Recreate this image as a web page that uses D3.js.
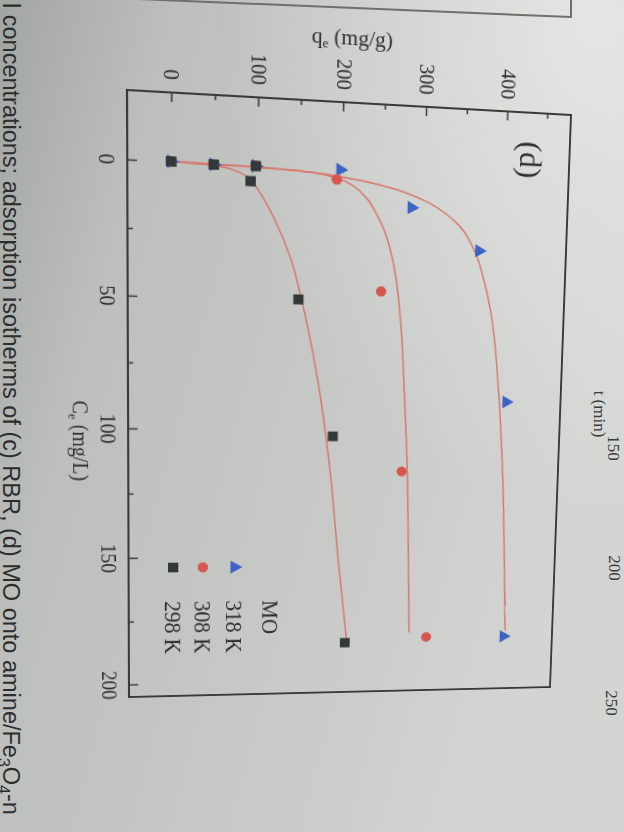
<!DOCTYPE html>
<html><head><meta charset="utf-8">
<script src="https://cdn.jsdelivr.net/npm/d3@7"></script>
<style>
html,body{margin:0;padding:0;width:624px;height:832px;overflow:hidden;}
body{background:#c4c7c3;}
svg{position:absolute;left:0;top:0;}
#chart{transform-origin:0 0;}
</style></head><body>
<svg id="bg" width="624" height="832"></svg>
<svg id="chart" width="624" height="832"></svg>
<script>
// ---------- data (Ce in mg/L, qe in mg/g) ----------
const seriesNames = ["318 K", "308 K", "298 K"];
const legendTitle = "MO";
const panelLabel = "(d)";
const xTitle = "C";   // Ce axis
const yTitle = "q";   // qe axis
const ceTicksMajor = [0, 50, 100, 150, 200];
const ceTicksMinor = [25, 75, 125, 175];
const qeTicksMajor = [0, 100, 200, 300, 400];
const qeTicksMinor = [50, 150, 250, 350, 450];

const ce318 = [0, 0.4, 0.2, 0.1, 13.2, 28.7, 87.7, 183.3];
const qe318 = [0, 49, 98, 198, 285, 370, 410, 416];
const ce308 = [0, 0.4, 0.2, 3.8, 45.6, 115.8, 183.0];
const qe308 = [0, 49, 98, 194, 250, 280, 316];
const ce298 = [0, 0.4, 0.2, 5.9, 49.6, 102.2, 184.8];
const qe298 = [0, 49, 98, 92, 150, 194, 213];

// fitted isotherm lines
const fitCe318 = [0, 1, 3, 6, 10, 17, 28, 40, 51, 84, 115, 151, 181];
const fitQe318 = [0, 130, 205, 258, 298, 336, 363, 377, 386, 400, 408, 414, 418];
const fitCe308 = [0, 0.6, 1.5, 3.4, 6, 10, 17, 22, 33, 58, 84, 115, 151, 181];
const fitQe308 = [0, 100, 160, 195, 214, 229, 244, 252, 263, 275, 281, 287, 291, 294];
const fitCe298 = [0, 0.8, 3, 6, 12, 20, 34, 50, 76, 115, 151, 183.5];
const fitQe298 = [0, 51, 80, 93, 107, 121, 140, 154, 172, 191, 203, 215];

// ---------- background (paper photo) ----------
const bg = d3.select("#bg");
const defs = bg.append("defs");
const lg = defs.append("linearGradient").attr("id","paper").attr("x1","0").attr("y1","0").attr("x2","1").attr("y2","0.35");
lg.append("stop").attr("offset","0").attr("stop-color","#a2a6a2");
lg.append("stop").attr("offset","0.25").attr("stop-color","#bcbfbb");
lg.append("stop").attr("offset","0.7").attr("stop-color","#c8cbc7");
lg.append("stop").attr("offset","1").attr("stop-color","#d2d5d1");
const rg = defs.append("radialGradient").attr("id","glow").attr("cx","0.95").attr("cy","0.02").attr("r","0.6");
rg.append("stop").attr("offset","0").attr("stop-color","#eaebe8").attr("stop-opacity",0.8);
rg.append("stop").attr("offset","1").attr("stop-color","#eaebe8").attr("stop-opacity",0);
bg.append("rect").attr("width",624).attr("height",832).attr("fill","url(#paper)");
bg.append("rect").attr("width",624).attr("height",832).attr("fill","url(#glow)");

// neighbouring panel fragments
bg.append("path").attr("d","M90,-3 L571,17 L571,-6").attr("fill","none").attr("stroke","#6d706e").attr("stroke-width",2);
const frag = bg.append("g").attr("font-family","Liberation Serif").attr("font-size",17).attr("fill","#3a3c3b");
frag.append("text").attr("transform","translate(594,414) rotate(90)").attr("text-anchor","middle").text("t (min)");
frag.append("text").attr("transform","translate(608,448) rotate(90)").attr("text-anchor","middle").text("150");
frag.append("text").attr("transform","translate(609,568) rotate(90)").attr("text-anchor","middle").text("200");
frag.append("text").attr("transform","translate(606,703) rotate(90)").attr("text-anchor","middle").text("250");

// caption (left edge, rotated)
const cap = bg.append("text").attr("transform","translate(3,3) rotate(90)")
  .attr("font-family","Liberation Sans").attr("font-size",23.5).attr("fill","#2c2e2d");
cap.append("tspan").text("l concentrations; adsorption isotherms of (c) RBR, (d) MO onto amine/Fe");
cap.append("tspan").attr("font-size",16).attr("dy",5).text("3");
cap.append("tspan").attr("dy",-5).text("O");
cap.append("tspan").attr("font-size",16).attr("dy",5).text("4");
cap.append("tspan").attr("dy",-5).text("-n");

// ---------- chart, drawn upright-rotated then warped by perspective ----------
const X0 = 127, X1 = 560, Y0 = 90, Y1 = 697;
const x = d3.scaleLinear().domain([-50, 480]).range([X0, X1]);   // qe
const y = d3.scaleLinear().domain([-25, 205]).range([Y0, Y1]);   // Ce
const svg = d3.select("#chart");
const ink = "#383b3a";

svg.append("rect").attr("x",X0).attr("y",Y0).attr("width",X1-X0).attr("height",Y1-Y0)
  .attr("fill","none").attr("stroke",ink).attr("stroke-width",2);

function styleAxis(g){ g.select(".domain").remove(); g.selectAll("line").attr("stroke",ink).attr("stroke-width",1.5); }

// Ce axis (left)
const gL = svg.append("g").attr("transform",`translate(${X0},0)`)
  .call(d3.axisLeft(y).tickValues(ceTicksMajor).tickSize(-9).tickFormat(d3.format("d")));
styleAxis(gL);
gL.selectAll("text").attr("x",null).attr("dy",null).attr("fill","#2e302f")
  .attr("font-family","Liberation Serif").attr("font-size",20)
  .attr("text-anchor","middle").attr("transform","translate(-26,0) rotate(90)");
const gLm = svg.append("g").attr("transform",`translate(${X0},0)`)
  .call(d3.axisLeft(y).tickValues(ceTicksMinor).tickSize(-5).tickFormat(""));
styleAxis(gLm);

// qe axis (top)
const gT = svg.append("g").attr("transform",`translate(0,${Y0})`)
  .call(d3.axisTop(x).tickValues(qeTicksMajor).tickSize(-9).tickFormat(d3.format("d")));
styleAxis(gT);
gT.selectAll("text").attr("y",null).attr("dy",null).attr("fill","#2e302f")
  .attr("font-family","Liberation Serif").attr("font-size",20)
  .attr("text-anchor","end").attr("transform","translate(-7,-12) rotate(90)");
const gTm = svg.append("g").attr("transform",`translate(0,${Y0})`)
  .call(d3.axisTop(x).tickValues(qeTicksMinor).tickSize(-5).tickFormat(""));
styleAxis(gTm);

// axis titles
const tx = svg.append("text").attr("transform",`translate(${X0-52},${y(105)}) rotate(90)`)
  .attr("text-anchor","middle").attr("font-family","Liberation Serif").attr("font-size",20).attr("fill","#2e302f");
tx.append("tspan").text(xTitle);
tx.append("tspan").attr("font-size",13).attr("dy",4).text("e");
tx.append("tspan").attr("dy",-4).text(" (mg/L)");
const ty = svg.append("text").attr("transform",`translate(${x(210)},${Y0-56})`)
  .attr("text-anchor","middle").attr("font-family","Liberation Serif").attr("font-size",21).attr("fill","#2e302f");
ty.append("tspan").text(yTitle);
ty.append("tspan").attr("font-size",13).attr("dy",4).text("e");
ty.append("tspan").attr("dy",-4).text(" (mg/g)");

// fitted lines
const fitColor = "#d8766d";
const line = d3.line().x(d=>x(d[1])).y(d=>y(d[0])).curve(d3.curveMonotoneY);
[[fitCe318,fitQe318],[fitCe308,fitQe308],[fitCe298,fitQe298]].forEach(([c,q])=>{
  svg.append("path").attr("d", line(c.map((v,i)=>[v,q[i]])))
    .attr("fill","none").attr("stroke",fitColor).attr("stroke-width",1.5);
});

// markers
const colors = ["#3c62c6", "#d65650", "#33383a"];
const symbols = [d3.symbolTriangle, d3.symbolCircle, d3.symbolSquare];
const sizes = [80, 85, 100];
const rots = [90, 0, 0];
const data = [[ce318,qe318],[ce308,qe308],[ce298,qe298]];
data.forEach(([c,q],k)=>{
  svg.append("g").selectAll("path").data(c.map((v,i)=>[v,q[i]])).join("path")
    .attr("d", d3.symbol(symbols[k], sizes[k])())
    .attr("transform", d=>`translate(${x(d[1])},${y(d[0])}) rotate(${rots[k]})`)
    .attr("fill", colors[k]);
});

// panel label
svg.append("text").attr("transform",`translate(${x(418)},${y(-7)}) rotate(90)`)
  .attr("text-anchor","middle").attr("font-family","Liberation Serif").attr("font-size",32).attr("fill","#2e302f")
  .text(panelLabel);

// legend
const lgX = [230, 199, 170], lgMarkY = 562, lgTextY = 597;
const leg = svg.append("g").attr("font-family","Liberation Serif").attr("font-size",22.5).attr("fill","#2e302f");
leg.append("text").attr("transform",`translate(258,${lgTextY}) rotate(90)`).text(legendTitle);
seriesNames.forEach((n,k)=>{
  leg.append("path").attr("d", d3.symbol(symbols[k], sizes[k])())
    .attr("transform",`translate(${lgX[k]},${lgMarkY}) rotate(${rots[k]})`).attr("fill",colors[k]);
  leg.append("text").attr("transform",`translate(${lgX[k]-8},${lgTextY}) rotate(90)`).text(n);
});

// ---------- perspective warp (photo of a page) ----------
function homography(src, dst){
  const A=[], B=[];
  for(let i=0;i<4;i++){
    const [sx,sy]=src[i],[dx,dy]=dst[i];
    A.push([sx,sy,1,0,0,0,-sx*dx,-sy*dx]); B.push(dx);
    A.push([0,0,0,sx,sy,1,-sx*dy,-sy*dy]); B.push(dy);
  }
  const n=8;
  for(let c=0;c<n;c++){
    let p=c; for(let r=c+1;r<n;r++) if(Math.abs(A[r][c])>Math.abs(A[p][c])) p=r;
    [A[c],A[p]]=[A[p],A[c]]; [B[c],B[p]]=[B[p],B[c]];
    for(let r=0;r<n;r++){ if(r===c) continue; const f=A[r][c]/A[c][c];
      for(let k=c;k<n;k++) A[r][k]-=f*A[c][k]; B[r]-=f*B[c]; }
  }
  return B.map((b,i)=>b/A[i][i]);
}
const H = homography([[X0,Y0],[X1,Y0],[X0,Y1],[X1,Y1]], [[127,90],[571,115],[129,697],[550,687]]);
const [a,b,c,d,e,f,g,h] = H;
document.getElementById("chart").style.transform =
  `matrix3d(${a},${d},0,${g},${b},${e},0,${h},0,0,1,0,${c},${f},0,1)`;
</script>
</body></html>
